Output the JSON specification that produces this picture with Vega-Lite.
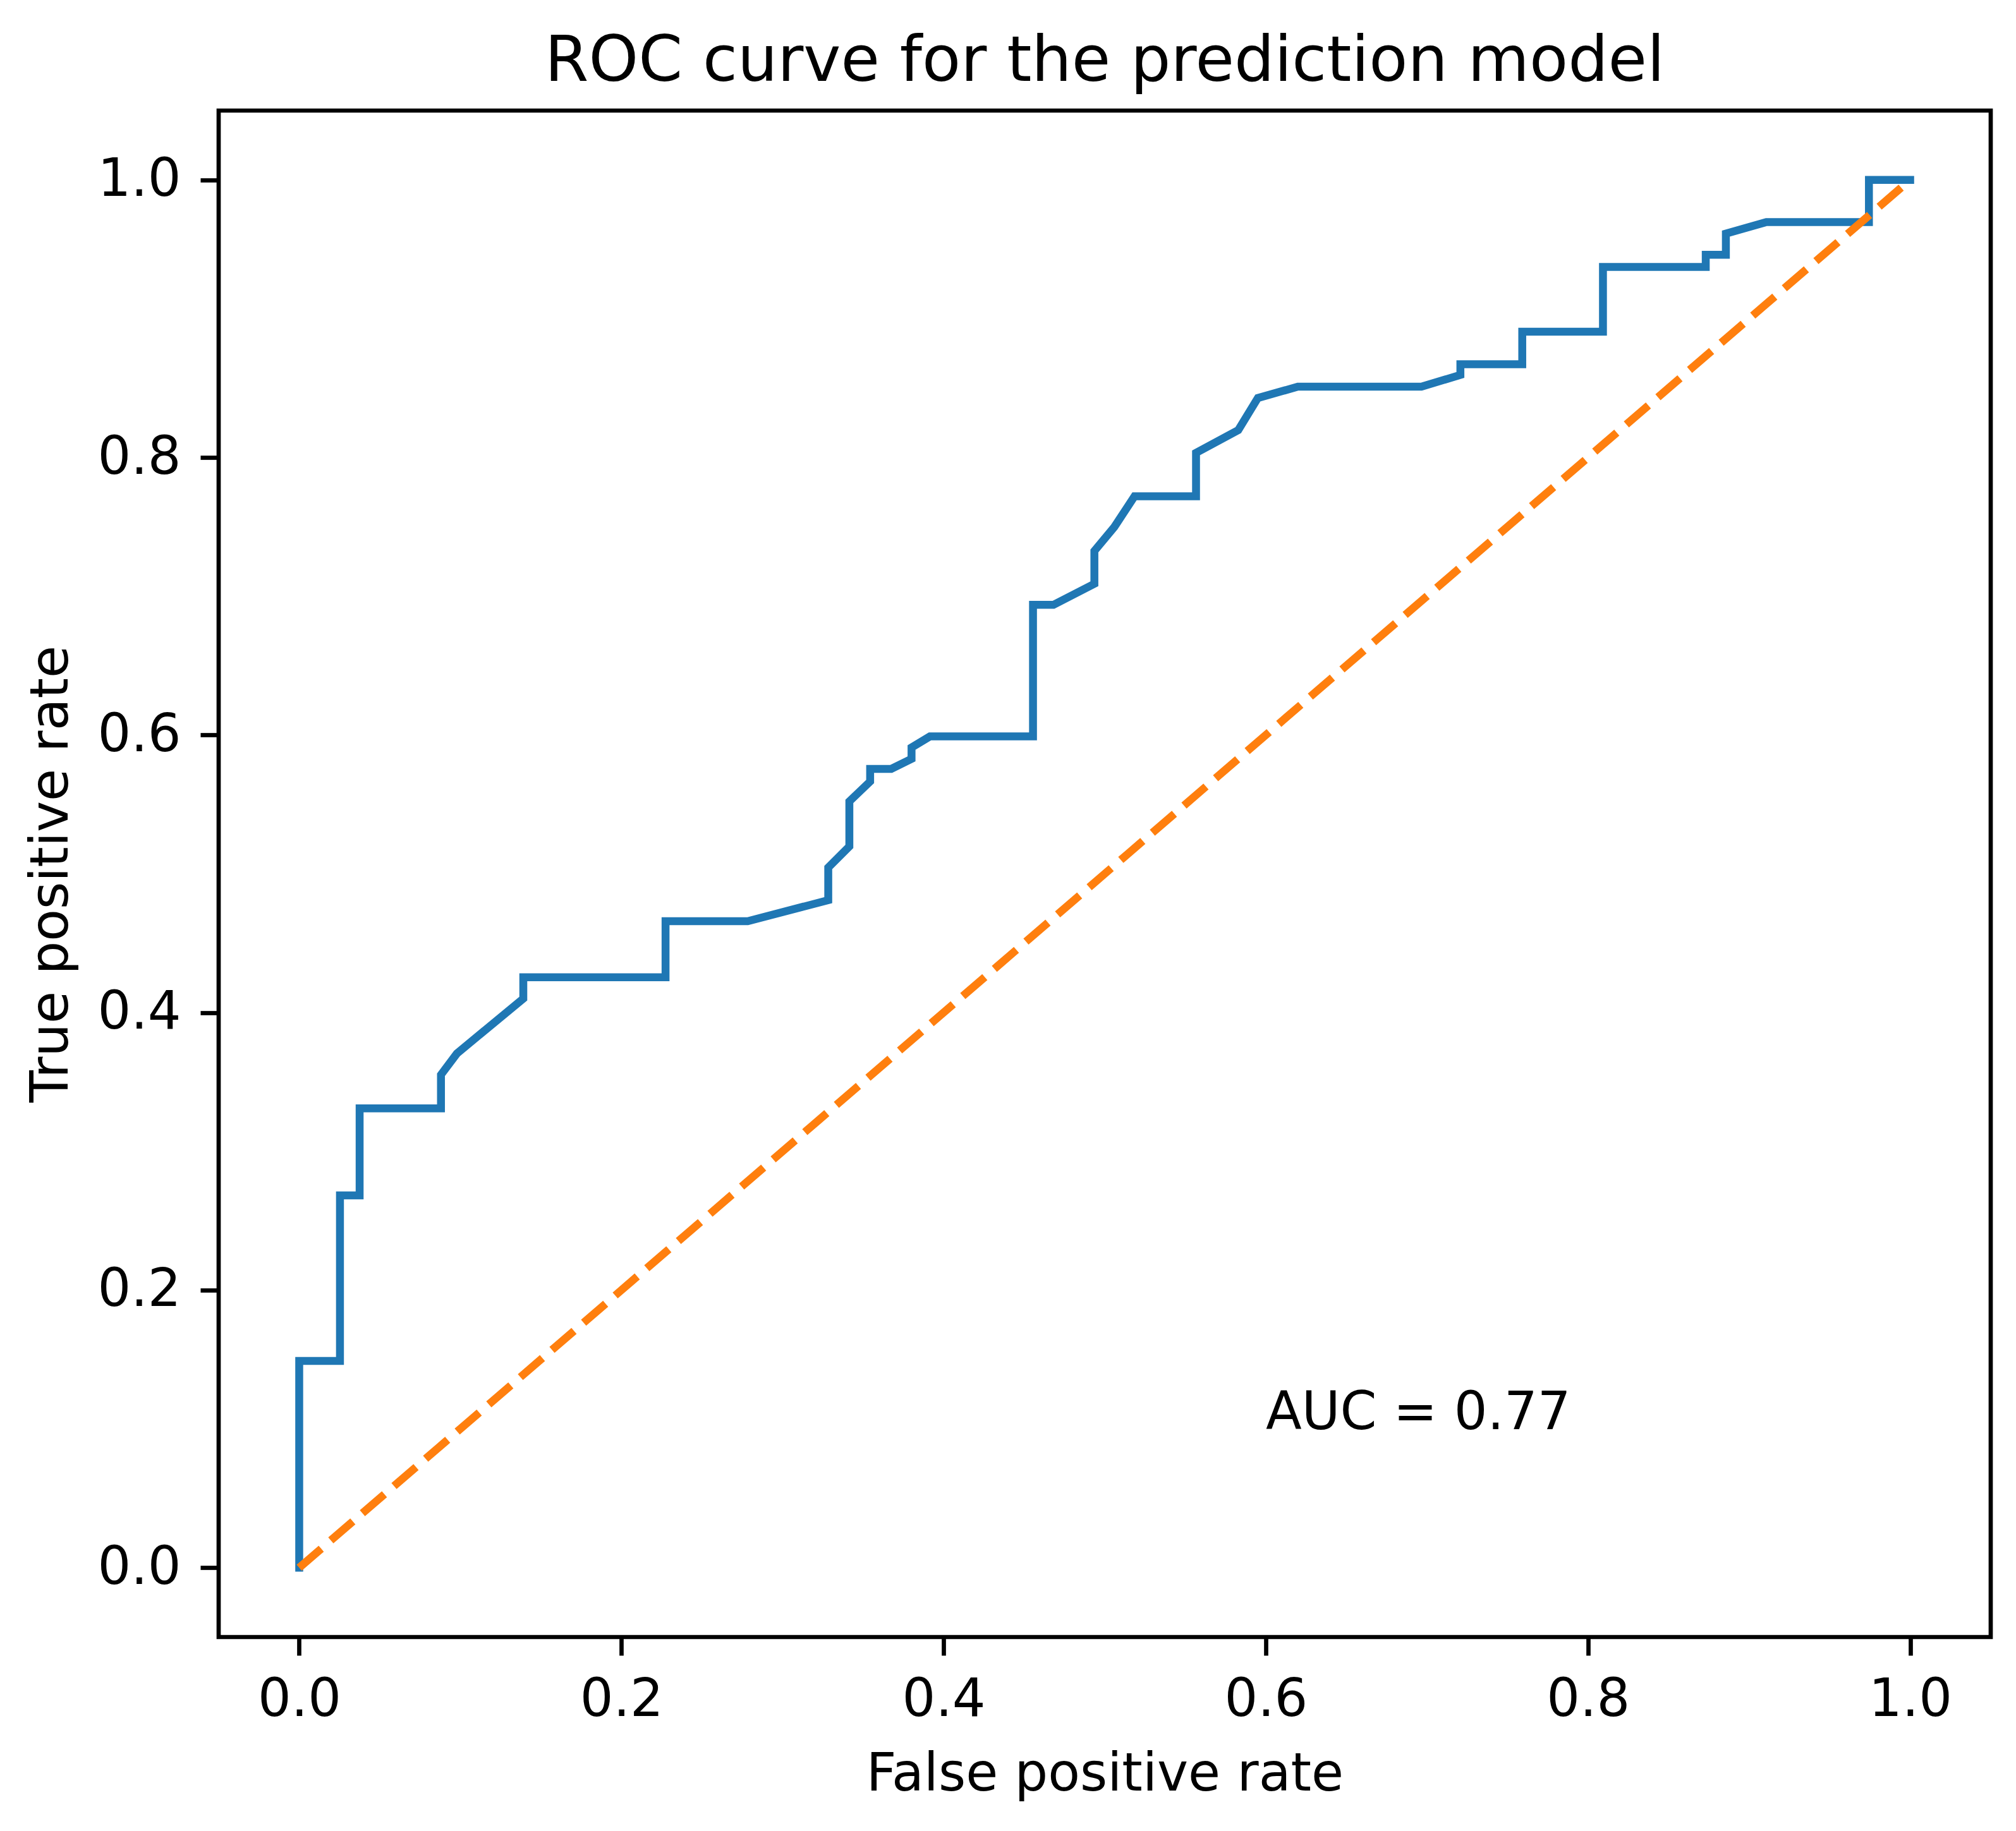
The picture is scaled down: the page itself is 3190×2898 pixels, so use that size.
{
  "$schema": "https://vega.github.io/schema/vega-lite/v6.json",
  "autosize": {"type": "none"},
  "width": 2804,
  "height": 2416,
  "padding": {"left": 346, "top": 175, "right": 40, "bottom": 307},
  "background": "white",
  "title": {
    "text": "ROC curve for the prediction model",
    "fontSize": 100,
    "fontWeight": "normal",
    "font": "DejaVu Sans",
    "color": "black",
    "anchor": "middle",
    "baseline": "alphabetic",
    "frame": "group",
    "offset": -53
  },
  "config": {
    "font": "DejaVu Sans",
    "view": {"stroke": "black", "strokeWidth": 6.7},
    "axis": {
      "grid": false,
      "domain": false,
      "tickColor": "black",
      "tickWidth": 6.7,
      "tickSize": 29,
      "labelFontSize": 83,
      "labelColor": "black",
      "labelFont": "DejaVu Sans",
      "titleFontSize": 83,
      "titleFontWeight": "normal",
      "titleColor": "black",
      "titleFont": "DejaVu Sans"
    }
  },
  "datasets": {
    "roc": [
      {"i": 0, "fpr": 0.0, "tpr": 0.0},
      {"i": 1, "fpr": 0.0, "tpr": 0.149},
      {"i": 2, "fpr": 0.0253, "tpr": 0.149},
      {"i": 3, "fpr": 0.0253, "tpr": 0.2683},
      {"i": 4, "fpr": 0.0375, "tpr": 0.2683},
      {"i": 5, "fpr": 0.0375, "tpr": 0.331},
      {"i": 6, "fpr": 0.088, "tpr": 0.331},
      {"i": 7, "fpr": 0.088, "tpr": 0.3552},
      {"i": 8, "fpr": 0.0979, "tpr": 0.3705},
      {"i": 9, "fpr": 0.1391, "tpr": 0.4101},
      {"i": 10, "fpr": 0.1391, "tpr": 0.4254},
      {"i": 11, "fpr": 0.2274, "tpr": 0.4254},
      {"i": 12, "fpr": 0.2274, "tpr": 0.4658},
      {"i": 13, "fpr": 0.2784, "tpr": 0.4658},
      {"i": 14, "fpr": 0.3284, "tpr": 0.481},
      {"i": 15, "fpr": 0.3284, "tpr": 0.5045},
      {"i": 16, "fpr": 0.3415, "tpr": 0.5197},
      {"i": 17, "fpr": 0.3415, "tpr": 0.5522},
      {"i": 18, "fpr": 0.3544, "tpr": 0.5665},
      {"i": 19, "fpr": 0.3544, "tpr": 0.5756},
      {"i": 20, "fpr": 0.3675, "tpr": 0.5756},
      {"i": 21, "fpr": 0.3801, "tpr": 0.5828},
      {"i": 22, "fpr": 0.3801, "tpr": 0.591},
      {"i": 23, "fpr": 0.3915, "tpr": 0.599},
      {"i": 24, "fpr": 0.4555, "tpr": 0.599},
      {"i": 25, "fpr": 0.4555, "tpr": 0.6938},
      {"i": 26, "fpr": 0.4682, "tpr": 0.6938},
      {"i": 27, "fpr": 0.4936, "tpr": 0.709},
      {"i": 28, "fpr": 0.4936, "tpr": 0.7327},
      {"i": 29, "fpr": 0.506, "tpr": 0.75},
      {"i": 30, "fpr": 0.5185, "tpr": 0.772},
      {"i": 31, "fpr": 0.5567, "tpr": 0.772},
      {"i": 32, "fpr": 0.5567, "tpr": 0.8034},
      {"i": 33, "fpr": 0.5829, "tpr": 0.8197},
      {"i": 34, "fpr": 0.5951, "tpr": 0.8429},
      {"i": 35, "fpr": 0.6199, "tpr": 0.851},
      {"i": 36, "fpr": 0.6966, "tpr": 0.851},
      {"i": 37, "fpr": 0.7208, "tpr": 0.8595},
      {"i": 38, "fpr": 0.7208, "tpr": 0.8672},
      {"i": 39, "fpr": 0.7592, "tpr": 0.8672},
      {"i": 40, "fpr": 0.7592, "tpr": 0.8907},
      {"i": 41, "fpr": 0.8093, "tpr": 0.8907},
      {"i": 42, "fpr": 0.8093, "tpr": 0.9373},
      {"i": 43, "fpr": 0.8731, "tpr": 0.9373},
      {"i": 44, "fpr": 0.8731, "tpr": 0.9461},
      {"i": 45, "fpr": 0.8856, "tpr": 0.9461},
      {"i": 46, "fpr": 0.8856, "tpr": 0.9613},
      {"i": 47, "fpr": 0.9107, "tpr": 0.9696},
      {"i": 48, "fpr": 0.9744, "tpr": 0.9696},
      {"i": 49, "fpr": 0.9744, "tpr": 1.0},
      {"i": 50, "fpr": 1.0, "tpr": 1.0}
    ],
    "diag": [
      {"i": 0, "fpr": 0.0, "tpr": 0.0},
      {"i": 1, "fpr": 1.0, "tpr": 1.0}
    ],
    "auc": [
      {"fpr": 0.6, "tpr": 0.1, "label": "AUC = 0.77"}
    ]
  },
  "encoding": {
    "x": {
      "field": "fpr",
      "type": "quantitative",
      "scale": {"domain": [-0.05, 1.05], "nice": false, "zero": false},
      "axis": {
        "title": "False positive rate",
        "values": [0, 0.2, 0.4, 0.6, 0.8, 1.0],
        "format": ".1f",
        "labelPadding": 29,
        "labelBaseline": "top",
        "titleBaseline": "alphabetic",
        "titleY": 242,
        "titleAnchor": "middle"
      }
    },
    "y": {
      "field": "tpr",
      "type": "quantitative",
      "scale": {"domain": [-0.05, 1.05], "nice": false, "zero": false},
      "axis": {
        "title": "True positive rate",
        "values": [0, 0.2, 0.4, 0.6, 0.8, 1.0],
        "format": ".1f",
        "labelPadding": 31,
        "titleAngle": -90,
        "titleBaseline": "alphabetic",
        "titleAlign": "center",
        "titleX": -240,
        "titleY": 1208
      }
    }
  },
  "layer": [
    {
      "data": {"name": "roc"},
      "mark": {"type": "line", "color": "#1f77b4", "strokeWidth": 12.5, "strokeJoin": "miter", "strokeCap": "square", "clip": true},
      "encoding": {"order": {"field": "i", "type": "quantitative"}}
    },
    {
      "data": {"name": "diag"},
      "mark": {"type": "line", "color": "#ff7f0e", "strokeWidth": 12.5, "strokeDash": [46, 20], "strokeCap": "butt", "clip": true},
      "encoding": {"order": {"field": "i", "type": "quantitative"}}
    },
    {
      "data": {"name": "auc"},
      "mark": {"type": "text", "align": "left", "baseline": "alphabetic", "fontSize": 83, "font": "DejaVu Sans", "color": "black"},
      "encoding": {"text": {"field": "label", "type": "nominal"}}
    }
  ]
}
